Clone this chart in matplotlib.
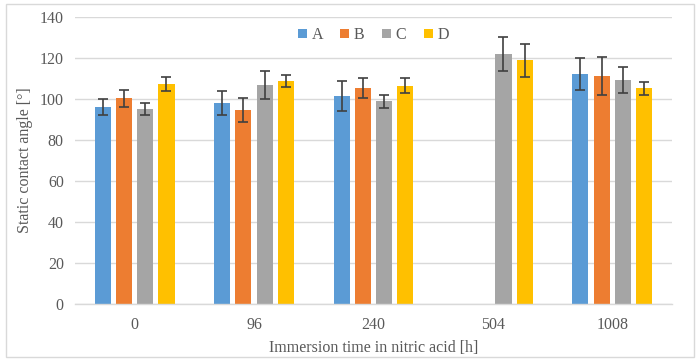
import numpy as np
import matplotlib
matplotlib.use('Agg')
import matplotlib.pyplot as plt
from matplotlib.patches import Rectangle

# Static contact angle vs immersion time
categories = ['0', '96', '240', '504', '1008']
series_names = ['A', 'B', 'C', 'D']

val_A = [96.0, 98.0, 101.3, np.nan, 112.2]
val_B = [100.3, 94.6, 105.5, np.nan, 111.2]
val_C = [95.0, 106.8, 98.9, 121.8, 109.3]
val_D = [107.3, 108.8, 106.5, 118.9, 105.2]

err_A = [4.0, 5.7, 7.3, np.nan, 7.9]
err_B = [4.3, 5.8, 5.0, np.nan, 9.3]
err_C = [3.0, 6.8, 3.3, 8.3, 6.4]
err_D = [3.5, 3.0, 3.8, 8.0, 3.2]

colors = ['#5B9BD5', '#ED7D31', '#A5A5A5', '#FFC000']

plt.rcParams['font.family'] = ['Liberation Serif', 'DejaVu Serif']

fig = plt.figure(figsize=(7.0, 3.62), dpi=100)
ax = fig.add_axes([0.107, 0.160, 0.853, 0.793])

x = np.arange(len(categories))
width = 0.135
step = 0.178
vals = [val_A, val_B, val_C, val_D]
errs = [err_A, err_B, err_C, err_D]

for ii in range(4):
    ax.bar(x + (ii - 1.5)*step, vals[ii], width, color=colors[ii], label=series_names[ii], zorder=2,
           yerr=errs[ii], error_kw=dict(ecolor='#404040', elinewidth=1.2, capsize=3.5, capthick=1.2))

ax.set_xlim(-0.5, len(categories) - 0.5)
ax.set_ylim(0, 140)
ax.set_yticks(np.arange(0, 141, 20))
ax.set_xticks(x)
ax.set_xticklabels(categories)
ax.yaxis.grid(True, color='#D9D9D9', linewidth=1.0, zorder=0)
ax.set_axisbelow(True)
for s in ['top', 'right', 'left']:
    ax.spines[s].set_visible(False)
ax.spines['bottom'].set_color('#D9D9D9')
ax.spines['bottom'].set_linewidth(1.0)
ax.tick_params(axis='y', length=0, labelsize=11.5, colors='#595959', pad=8)
ax.tick_params(axis='x', length=0, labelsize=11.5, colors='#595959', pad=9)

ax.set_xlabel('Immersion time in nitric acid [h]', fontsize=11.5, color='#595959', labelpad=5)
ax.set_ylabel('Static contact angle [°]', fontsize=11.5, color='#595959', labelpad=5)

ax.legend(loc='upper center', bbox_to_anchor=(0.5, 1.015), ncol=4, frameon=False, fontsize=11.5,
          handlelength=0.55, handleheight=0.55, handletextpad=0.3, columnspacing=1.1, labelcolor='#595959')

fig.patches.append(Rectangle((0.008, 0.013), 0.983, 0.975, transform=fig.transFigure,
                             fill=False, edgecolor='#D9D9D9', linewidth=1.0))

plt.savefig('out.png')
plt.close('all')
